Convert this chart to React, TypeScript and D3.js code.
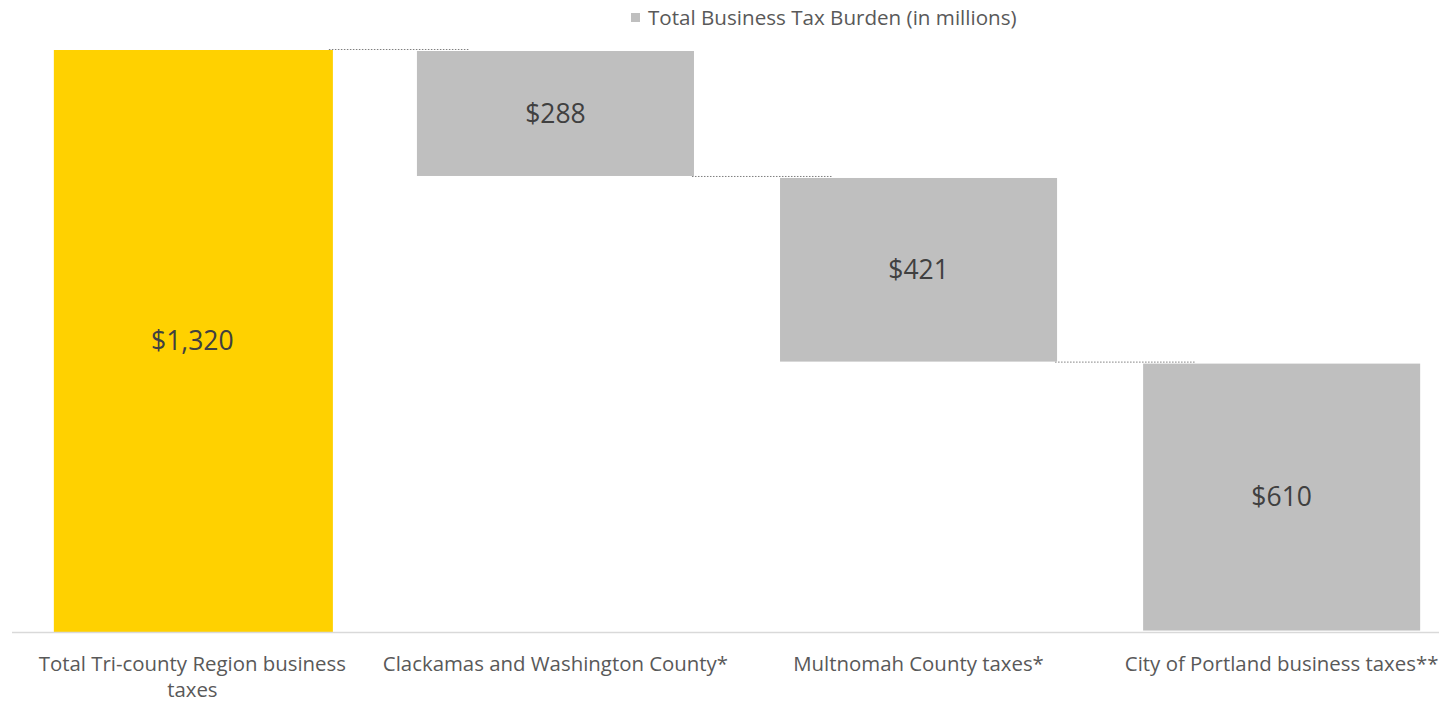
import { useEffect, useRef } from 'react';
import * as d3 from 'd3';

const categories = [
  'Total Tri-county Region business taxes',
  'Clackamas and Washington County*',
  'Multnomah County taxes*',
  'City of Portland business taxes**',
];
const values = [1320, 288, 421, 610];
const isTotal = [true, false, false, false];
const legendLabel = 'Total Business Tax Burden (in millions)';

const WIDTH = 1439;
const HEIGHT = 702;
const FONT = '"Open Sans", "Noto Sans", sans-serif';

export default function App() {
  const svgRef = useRef<SVGSVGElement>(null);

  useEffect(() => {
    if (!svgRef.current) return;
    const svg = d3.select(svgRef.current);
    svg.selectAll('*').remove();

    // waterfall steps: total first, then pieces falling from the top
    const steps: { name: string; start: number; end: number; value: number; total: boolean }[] = [];
    let running = 0;
    categories.forEach((name, i) => {
      if (isTotal[i]) {
        steps.push({ name, start: 0, end: values[i], value: values[i], total: true });
        running = values[i];
      } else {
        steps.push({ name, start: running, end: running - values[i], value: values[i], total: false });
        running -= values[i];
      }
    });

    const x = d3
      .scaleBand()
      .domain(categories)
      .range([11, 1463])
      .paddingInner(0.237)
      .paddingOuter(0.118);

    const y = d3.scaleLinear().domain([0, 1320]).range([632, 50]);
    const bw = x.bandwidth();

    // connectors
    steps.slice(0, -1).forEach((s, i) => {
      const next = steps[i + 1];
      svg
        .append('line')
        .attr('x1', (x(s.name) as number) + bw - 2)
        .attr('x2', (x(next.name) as number) + bw * 0.19)
        .attr('y1', y(s.end) - 0.5)
        .attr('y2', y(s.end) - 0.5)
        .attr('stroke', '#7f7f7f')
        .attr('stroke-width', 1)
        .attr('stroke-dasharray', '1.5,1.5');
    });

    // bars
    svg
      .selectAll('rect.bar')
      .data(steps)
      .enter()
      .append('rect')
      .attr('class', 'bar')
      .attr('x', (d) => x(d.name) as number)
      .attr('width', (d) => bw + (d.total ? 2 : 0))
      .attr('y', (d) => y(Math.max(d.start, d.end)) + (d.total ? 0 : 1))
      .attr('height', (d) => Math.abs(y(d.start) - y(d.end)) - (d.total ? 0 : 2))
      .attr('fill', (d) => (d.total ? '#FFD100' : '#BFBFBF'));

    // value labels
    svg
      .selectAll('text.val')
      .data(steps)
      .enter()
      .append('text')
      .attr('class', 'val')
      .attr('x', (d) => (x(d.name) as number) + bw / 2)
      .attr('y', (d) => (y(d.start) + y(d.end)) / 2)
      .attr('dy', '0.35em')
      .attr('text-anchor', 'middle')
      .attr('font-family', FONT)
      .attr('font-size', 26.5)
      .attr('fill', '#404040')
      .text((d) => '$' + d3.format(',')(d.value));

    // axis line
    svg
      .append('line')
      .attr('x1', 12)
      .attr('x2', WIDTH)
      .attr('y1', y(0) + 0.5)
      .attr('y2', y(0) + 0.5)
      .attr('stroke', '#d9d9d9')
      .attr('stroke-width', 1.5);

    // category labels with wrapping
    const maxW = x.step() - 12;
    categories.forEach((name) => {
      const cx = (x(name) as number) + bw / 2;
      const t = svg
        .append('text')
        .attr('x', cx)
        .attr('y', 671)
        .attr('text-anchor', 'middle')
        .attr('font-family', FONT)
        .attr('font-size', 20.4)
        .attr('fill', '#595959');
      const words = name.split(' ');
      let line: string[] = [];
      let tspan = t.append('tspan').attr('x', cx).attr('dy', 0);
      words.forEach((w) => {
        line.push(w);
        tspan.text(line.join(' '));
        const node = tspan.node() as SVGTSpanElement;
        if (node.getComputedTextLength() > maxW && line.length > 1) {
          line.pop();
          tspan.text(line.join(' '));
          line = [w];
          tspan = t.append('tspan').attr('x', cx).attr('dy', 25.5).text(w);
        }
      });
    });

    // legend
    const lg = svg.append('g').attr('transform', 'translate(631,13)');
    lg.append('rect').attr('width', 9).attr('height', 9).attr('fill', '#BFBFBF');
    lg.append('text')
      .attr('x', 17)
      .attr('y', 5)
      .attr('dy', '0.35em')
      .attr('font-family', FONT)
      .attr('font-size', 20.6)
      .attr('fill', '#595959')
      .text(legendLabel);
  }, []);

  return (
    <svg
      ref={svgRef}
      width={WIDTH}
      height={HEIGHT}
      style={{ position: 'absolute', left: 0, top: 0, background: '#fff' }}
    />
  );
}
